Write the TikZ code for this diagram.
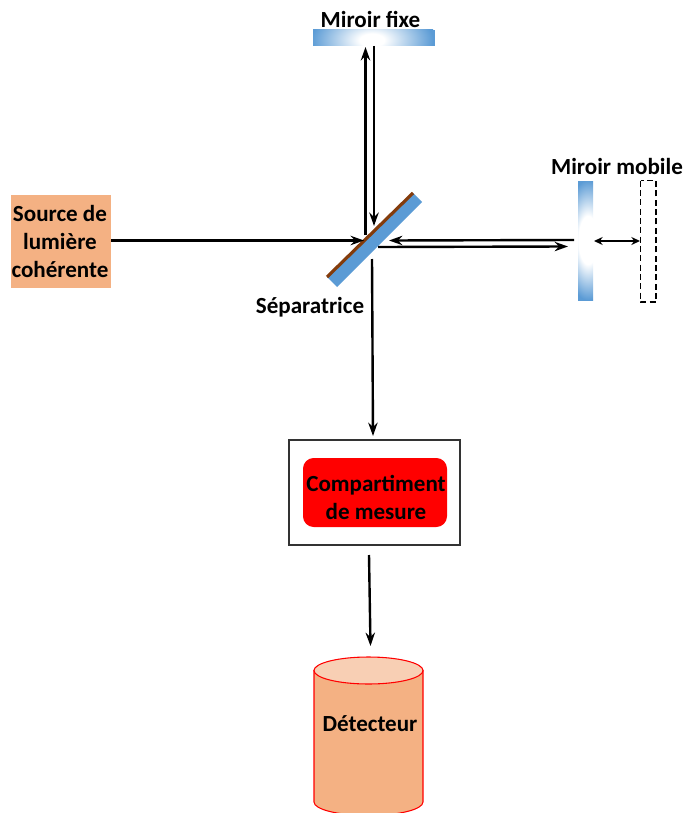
\documentclass[tikz,border=0pt]{standalone}
\usepackage{fontspec}
\setmainfont{Carlito}
\usetikzlibrary{arrows.meta}
\definecolor{mblue}{HTML}{5B9BD5}
\definecolor{peach}{HTML}{F4B183}
\definecolor{peachlight}{HTML}{F8CFB4}
\definecolor{brownline}{HTML}{843C0C}
\pgfdeclareradialshading{mirrorshade}{\pgfpoint{0bp}{0bp}}{color(0bp)=(white); color(5bp)=(white); color(25bp)=(mblue); color(50bp)=(mblue)}
\pgfdeclareradialshading{mirrorshadeb}{\pgfpoint{0bp}{0bp}}{color(0bp)=(white); color(10bp)=(white); color(25bp)=(mblue); color(50bp)=(mblue)}
\tikzset{
  label text/.style={font=\bfseries\fontsize{17.3}{21}\selectfont, text=black, inner sep=0pt, align=center},
  beam/.style={line width=1.8pt, draw=black, -{Stealth[length=10pt,width=7pt]}},
  shortbeam/.style={line width=1.4pt, draw=black, {Stealth[length=6.5pt,width=6pt]}-{Stealth[length=6.5pt,width=6pt]}},
}
\begin{document}
\begin{tikzpicture}[x=0.75pt,y=-0.75pt]
\useasboundingbox (0,0) rectangle (684,813);
% mirrors
\begin{scope}
\clip (313,30) rectangle (435,46);
\fill[mblue] (313,30) rectangle (435,46);
\shade[shading=mirrorshade] (311,8) rectangle (433,72);
\end{scope}
\begin{scope}
\clip (578,181) rectangle (593,301);
\fill[mblue] (578,181) rectangle (593,301);
\shade[shading=mirrorshadeb] (564,180) rectangle (612,300);
\end{scope}
\draw[black, line width=1.4pt, dash pattern=on 4.5pt off 2.5pt] (640.5,180.5) rectangle (656,302);
% splitter
\fill[mblue] (327,277) -- (337,287) -- (422,202) -- (413,193) -- cycle;
\draw[brownline, line width=2.4pt] (327,277) -- (413,193);
% boxes
\node[fill=peach, minimum width=75pt, minimum height=69.75pt, inner sep=0pt, anchor=center] (source) at (61,241.5) {};
\node[label text] (sourcetext) at (60,241.5) {Source de\\lumière\\cohérente};
\node[draw=black!80, line width=0.8pt, fill=white, minimum width=128.25pt, minimum height=78.75pt, inner sep=0pt] (chamber) at (374.5,492.5) {};
\node[fill=red, rounded corners=8pt, minimum width=108pt, minimum height=51.75pt, inner sep=0pt] (cell) at (375,492.5) {};
\node[label text] (celltext) at (376,497) {Compartiment\\de mesure};
% cylinder
\begin{scope}
\clip (300,640) rectangle (440,813);
\path[draw=red, line width=0.8pt, fill=peach] (314,670.5) -- (314,802) arc[start angle=180,end angle=0,x radius=54.5,y radius=13.5] -- (423,670.5) -- cycle;
\path[draw=red, line width=0.8pt, fill=peachlight] (368.5,670.5) ellipse[x radius=54.5,y radius=13.5];
\end{scope}
\node[label text] (detector) at (370,724) {Détecteur};
% labels
\node[label text] (fixed) at (370.5,19) {Miroir fixe};
\node[label text] (mobile) at (617,166) {Miroir mobile};
\node[label text] (sep) at (310,307) {Séparatrice};
% connector ends
\coordinate (a1) at (111,240.5); \coordinate (a2) at (364,240.5);
\coordinate (b1) at (365.5,235); \coordinate (b2) at (365.5,47);
\coordinate (c1) at (374,46); \coordinate (c2) at (374,226);
\coordinate (d1) at (574,240); \coordinate (d2) at (389,240.5);
\coordinate (e1) at (378,247); \coordinate (e2) at (568,246.5);
\coordinate (f1) at (372,259); \coordinate (f2) at (373,436);
\coordinate (g1) at (369,555); \coordinate (g2) at (370.5,646);
\coordinate (h1) at (594,241); \coordinate (h2) at (640,241);
\draw[beam] (a1) -- (a2);
\draw[beam] (b1) -- (b2);
\draw[beam] (c1) -- (c2);
\draw[beam] (d1) -- (d2);
\draw[beam] (e1) -- (e2);
\draw[beam] (f1) -- (f2);
\draw[beam] (g1) -- (g2);
\draw[shortbeam] (h1) -- (h2);
\end{tikzpicture}
\end{document}
